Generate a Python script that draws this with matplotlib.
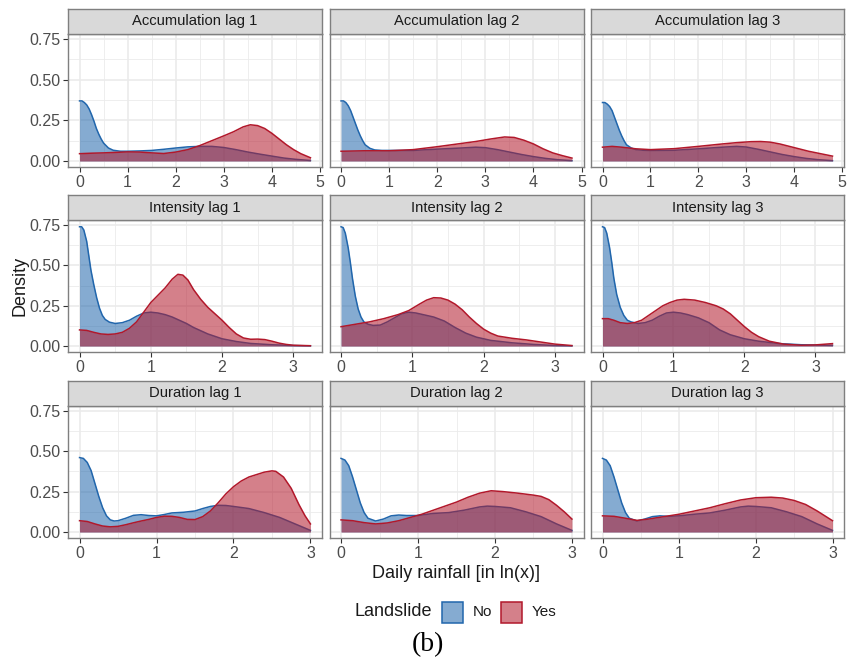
import matplotlib
matplotlib.use('Agg')
import matplotlib.pyplot as plt
from matplotlib.patches import Rectangle

plt.rcParams['font.family'] = ['Liberation Sans', 'DejaVu Sans']

# ---------------- data ----------------
facet_titles = [["Accumulation lag 1", "Accumulation lag 2", "Accumulation lag 3"],
                ["Intensity lag 1", "Intensity lag 2", "Intensity lag 3"],
                ["Duration lag 1", "Duration lag 2", "Duration lag 3"]]
series_labels = ["No", "Yes"]
legend_title = "Landslide"
x_title = "Daily rainfall [in ln(x)]"
y_title = "Density"
caption = "(b)"

y_ticks = [0.00, 0.25, 0.50, 0.75]
y_ticklabels = ["0.00", "0.25", "0.50", "0.75"]
x_ticks_rows = [[0, 1, 2, 3, 4, 5], [0, 1, 2, 3], [0, 1, 2, 3]]
x_data_range_rows = [(0, 4.8), (0, 3.24), (0, 3.0)]

# Accumulation lag 1
acc1_x_no = [0, 0.05, 0.1, 0.15, 0.2, 0.25, 0.3, 0.35, 0.4, 0.45, 0.5, 0.6, 0.7, 0.85, 1.0, 1.25, 1.5, 1.75,
             2.0, 2.25, 2.5, 2.75, 3.0, 3.25, 3.5, 3.75, 4.0, 4.25, 4.5, 4.8]
acc1_y_no = [0.37, 0.37, 0.36, 0.345, 0.32, 0.285, 0.245, 0.2, 0.165, 0.135, 0.11, 0.08, 0.066, 0.06, 0.06,
             0.062, 0.065, 0.072, 0.08, 0.087, 0.09, 0.09, 0.083, 0.07, 0.055, 0.042, 0.03, 0.018, 0.01, 0.003]
acc1_x_yes = [0, 0.25, 0.5, 0.75, 1.0, 1.25, 1.5, 1.75, 2.0, 2.25, 2.5, 2.75, 3.0, 3.2, 3.4, 3.55, 3.7, 3.85,
              4.0, 4.15, 4.3, 4.45, 4.6, 4.8]
acc1_y_yes = [0.045, 0.048, 0.05, 0.053, 0.056, 0.055, 0.05, 0.046, 0.055, 0.07, 0.095, 0.125, 0.155, 0.18,
              0.21, 0.223, 0.218, 0.2, 0.17, 0.135, 0.1, 0.07, 0.045, 0.02]

# Accumulation lag 2
acc2_x_no = [0, 0.05, 0.1, 0.15, 0.2, 0.25, 0.3, 0.35, 0.4, 0.45, 0.5, 0.6, 0.7, 0.85, 1.0, 1.5, 2.0, 2.5,
             2.8, 3.0, 3.25, 3.5, 3.75, 4.0, 4.25, 4.5, 4.8]
acc2_y_no = [0.37, 0.37, 0.36, 0.34, 0.31, 0.27, 0.23, 0.19, 0.155, 0.125, 0.1, 0.078, 0.068, 0.065, 0.065,
             0.065, 0.073, 0.08, 0.085, 0.082, 0.07, 0.055, 0.04, 0.027, 0.016, 0.008, 0.002]
acc2_x_yes = [0, 0.5, 1.0, 1.5, 2.0, 2.5, 2.8, 3.1, 3.4, 3.6, 3.8, 4.0, 4.2, 4.4, 4.6, 4.8]
acc2_y_yes = [0.06, 0.063, 0.063, 0.07, 0.088, 0.108, 0.12, 0.135, 0.148, 0.145, 0.128, 0.105, 0.075, 0.05,
              0.033, 0.018]

# Accumulation lag 3
acc3_x_no = [0, 0.05, 0.1, 0.15, 0.2, 0.25, 0.3, 0.35, 0.4, 0.45, 0.5, 0.6, 0.7, 0.85, 1.0, 1.5, 2.0, 2.5,
             2.8, 3.0, 3.25, 3.5, 3.75, 4.0, 4.25, 4.5, 4.8]
acc3_y_no = [0.36, 0.36, 0.35, 0.335, 0.31, 0.27, 0.23, 0.19, 0.155, 0.125, 0.1, 0.08, 0.07, 0.066, 0.065,
             0.066, 0.075, 0.085, 0.09, 0.086, 0.072, 0.056, 0.04, 0.027, 0.016, 0.008, 0.002]
acc3_x_yes = [0, 0.2, 0.4, 0.7, 1.0, 1.5, 2.0, 2.5, 2.8, 3.1, 3.3, 3.5, 3.7, 3.9, 4.1, 4.3, 4.5, 4.8]
acc3_y_yes = [0.085, 0.09, 0.085, 0.075, 0.07, 0.076, 0.09, 0.105, 0.113, 0.119, 0.12, 0.116, 0.105, 0.09,
              0.075, 0.06, 0.048, 0.03]

# Intensity lag 1
int1_x_no = [0, 0.03, 0.06, 0.1, 0.13, 0.16, 0.2, 0.24, 0.28, 0.32, 0.36, 0.42, 0.5, 0.6, 0.7, 0.8, 0.9, 1.0,
             1.1, 1.2, 1.3, 1.4, 1.5, 1.6, 1.7, 1.8, 1.9, 2.0, 2.2, 2.4, 2.7, 3.0, 3.24]
int1_y_no = [0.74, 0.74, 0.72, 0.65, 0.56, 0.47, 0.38, 0.3, 0.235, 0.19, 0.165, 0.148, 0.14, 0.145, 0.16,
             0.185, 0.205, 0.21, 0.205, 0.195, 0.18, 0.16, 0.14, 0.115, 0.095, 0.075, 0.06, 0.045, 0.028,
             0.016, 0.008, 0.003, 0.001]
int1_x_yes = [0, 0.1, 0.2, 0.3, 0.4, 0.5, 0.6, 0.7, 0.8, 0.9, 1.0, 1.1, 1.2, 1.3, 1.38, 1.45, 1.52, 1.6, 1.7,
              1.8, 1.9, 2.0, 2.1, 2.2, 2.3, 2.4, 2.5, 2.6, 2.7, 2.8, 2.9, 3.0, 3.24]
int1_y_yes = [0.1, 0.097, 0.085, 0.075, 0.072, 0.075, 0.085, 0.11, 0.15, 0.21, 0.27, 0.315, 0.36, 0.415,
              0.445, 0.44, 0.41, 0.35, 0.29, 0.24, 0.2, 0.16, 0.115, 0.075, 0.05, 0.042, 0.043, 0.04, 0.03,
              0.018, 0.01, 0.005, 0.002]

# Intensity lag 2
int2_x_no = [0, 0.03, 0.06, 0.1, 0.13, 0.16, 0.2, 0.24, 0.28, 0.32, 0.38, 0.45, 0.55, 0.65, 0.75, 0.85, 0.95,
             1.05, 1.15, 1.3, 1.45, 1.6, 1.75, 1.9, 2.1, 2.4, 2.7, 3.0, 3.24]
int2_y_no = [0.74, 0.735, 0.7, 0.61, 0.52, 0.42, 0.31, 0.23, 0.18, 0.15, 0.135, 0.128, 0.13, 0.15, 0.175,
             0.2, 0.21, 0.205, 0.195, 0.18, 0.155, 0.115, 0.08, 0.055, 0.035, 0.02, 0.01, 0.003, 0.001]
int2_x_yes = [0, 0.2, 0.4, 0.6, 0.8, 0.95, 1.1, 1.2, 1.3, 1.4, 1.5, 1.6, 1.7, 1.8, 1.9, 2.0, 2.1, 2.2, 2.4,
              2.6, 2.8, 3.0, 3.24]
int2_y_yes = [0.12, 0.135, 0.15, 0.17, 0.195, 0.22, 0.26, 0.285, 0.3, 0.298, 0.285, 0.26, 0.225, 0.18, 0.14,
              0.105, 0.08, 0.062, 0.048, 0.038, 0.025, 0.012, 0.003]

# Intensity lag 3
int3_x_no = [0, 0.03, 0.06, 0.1, 0.13, 0.16, 0.2, 0.25, 0.3, 0.35, 0.4, 0.5, 0.6, 0.7, 0.8, 0.9, 1.0, 1.1,
             1.2, 1.35, 1.5, 1.65, 1.8, 2.0, 2.2, 2.5, 2.8, 3.24]
int3_y_no = [0.74, 0.735, 0.7, 0.61, 0.52, 0.42, 0.32, 0.24, 0.19, 0.16, 0.15, 0.14, 0.145, 0.16, 0.185,
             0.205, 0.21, 0.205, 0.195, 0.175, 0.145, 0.1, 0.07, 0.045, 0.03, 0.015, 0.008, 0.004]
int3_x_yes = [0, 0.08, 0.16, 0.25, 0.35, 0.45, 0.55, 0.65, 0.75, 0.85, 0.95, 1.05, 1.15, 1.3, 1.45, 1.6,
              1.7, 1.8, 1.9, 2.0, 2.1, 2.2, 2.35, 2.55, 2.8, 3.0, 3.24]
int3_y_yes = [0.17, 0.17, 0.16, 0.145, 0.14, 0.145, 0.16, 0.19, 0.22, 0.25, 0.27, 0.285, 0.29, 0.285, 0.27,
              0.25, 0.23, 0.2, 0.16, 0.12, 0.085, 0.058, 0.03, 0.012, 0.005, 0.007, 0.015]

# Duration lag 1
dur1_x_no = [0, 0.05, 0.1, 0.15, 0.2, 0.25, 0.3, 0.35, 0.4, 0.45, 0.5, 0.6, 0.7, 0.8, 0.9, 1.0, 1.1, 1.2,
             1.35, 1.5, 1.6, 1.7, 1.8, 1.9, 2.0, 2.2, 2.4, 2.6, 2.8, 3.0]
dur1_y_no = [0.46, 0.455, 0.43, 0.38, 0.3, 0.22, 0.15, 0.1, 0.075, 0.068, 0.07, 0.085, 0.103, 0.107, 0.102,
             0.1, 0.108, 0.118, 0.122, 0.13, 0.145, 0.158, 0.165, 0.164, 0.158, 0.145, 0.12, 0.09, 0.05, 0.01]
dur1_x_yes = [0, 0.1, 0.2, 0.3, 0.4, 0.5, 0.6, 0.7, 0.8, 0.9, 1.0, 1.1, 1.2, 1.3, 1.4, 1.5, 1.6, 1.7, 1.8,
              1.9, 2.0, 2.1, 2.2, 2.3, 2.4, 2.5, 2.55, 2.65, 2.75, 2.85, 2.93, 3.0]
dur1_y_yes = [0.07, 0.065, 0.05, 0.037, 0.032, 0.035, 0.045, 0.057, 0.068, 0.078, 0.09, 0.098, 0.097, 0.09,
              0.078, 0.077, 0.095, 0.13, 0.18, 0.235, 0.28, 0.315, 0.34, 0.355, 0.37, 0.378, 0.375, 0.34,
              0.27, 0.17, 0.1, 0.05]

# Duration lag 2
dur2_x_no = [0, 0.05, 0.1, 0.15, 0.2, 0.25, 0.3, 0.35, 0.45, 0.55, 0.65, 0.75, 0.85, 1.0, 1.2, 1.4, 1.6,
             1.8, 1.9, 2.0, 2.2, 2.4, 2.6, 2.8, 3.0]
dur2_y_no = [0.455, 0.445, 0.41, 0.34, 0.26, 0.18, 0.12, 0.085, 0.068, 0.08, 0.1, 0.105, 0.102, 0.102, 0.115,
             0.12, 0.135, 0.155, 0.16, 0.158, 0.15, 0.125, 0.095, 0.05, 0.01]
dur2_x_yes = [0, 0.15, 0.3, 0.45, 0.6, 0.75, 0.9, 1.05, 1.2, 1.35, 1.5, 1.65, 1.8, 1.95, 2.1, 2.3, 2.5, 2.6,
              2.7, 2.8, 2.9, 3.0]
dur2_y_yes = [0.075, 0.07, 0.058, 0.05, 0.056, 0.07, 0.09, 0.11, 0.135, 0.16, 0.185, 0.215, 0.24, 0.255,
              0.25, 0.24, 0.228, 0.22, 0.2, 0.165, 0.125, 0.08]

# Duration lag 3
dur3_x_no = [0, 0.05, 0.1, 0.15, 0.2, 0.25, 0.3, 0.35, 0.45, 0.55, 0.65, 0.75, 0.85, 1.0, 1.2, 1.4, 1.6,
             1.8, 1.9, 2.0, 2.2, 2.4, 2.6, 2.8, 3.0]
dur3_y_no = [0.455, 0.445, 0.41, 0.34, 0.26, 0.18, 0.12, 0.085, 0.068, 0.08, 0.095, 0.1, 0.097, 0.1, 0.11,
             0.118, 0.135, 0.155, 0.16, 0.158, 0.15, 0.125, 0.095, 0.05, 0.01]
dur3_x_yes = [0, 0.15, 0.3, 0.45, 0.6, 0.8, 1.0, 1.2, 1.4, 1.6, 1.8, 2.0, 2.2, 2.35, 2.5, 2.65, 2.8, 2.9,
              3.0]
dur3_y_yes = [0.1, 0.097, 0.085, 0.072, 0.08, 0.095, 0.11, 0.13, 0.15, 0.175, 0.198, 0.212, 0.215, 0.21,
              0.195, 0.17, 0.13, 0.1, 0.07]

panel_data = [
    [((acc1_x_no, acc1_y_no), (acc1_x_yes, acc1_y_yes)),
     ((acc2_x_no, acc2_y_no), (acc2_x_yes, acc2_y_yes)),
     ((acc3_x_no, acc3_y_no), (acc3_x_yes, acc3_y_yes))],
    [((int1_x_no, int1_y_no), (int1_x_yes, int1_y_yes)),
     ((int2_x_no, int2_y_no), (int2_x_yes, int2_y_yes)),
     ((int3_x_no, int3_y_no), (int3_x_yes, int3_y_yes))],
    [((dur1_x_no, dur1_y_no), (dur1_x_yes, dur1_y_yes)),
     ((dur2_x_no, dur2_y_no), (dur2_x_yes, dur2_y_yes)),
     ((dur3_x_no, dur3_y_no), (dur3_x_yes, dur3_y_yes))],
]

# ---------------- style ----------------
W, H = 850, 659
line_colors = ["#2166AC", "#B2182B"]
fill_alpha = 0.55
border_col = "#7F7F7F"
grid_col = "#EBEBEB"
tick_col = "#4D4D4D"

col_bounds = [(68, 322), (329.5, 583.5), (591, 844)]
row_bounds = [(34, 167), (220, 352), (405.5, 538)]
strip_h = 25

y_lim = (-0.037, 0.782)

fig = plt.figure(figsize=(W / 100, H / 100), dpi=100)


def rect(x0, x1, top, bottom):
    return [x0 / W, 1 - bottom / H, (x1 - x0) / W, (bottom - top) / H]


for r in range(3):
    lo, hi = x_data_range_rows[r]
    pad = 0.05 * (hi - lo)
    xlim = (lo - pad, hi + pad)
    xt = x_ticks_rows[r]
    for c in range(3):
        x0, x1 = col_bounds[c]
        top, bottom = row_bounds[r]
        ax = fig.add_axes(rect(x0, x1, top, bottom))
        ax.set_xlim(*xlim)
        ax.set_ylim(*y_lim)
        # grid
        minor_x = [(xt[i] + xt[i + 1]) / 2 for i in range(len(xt) - 1)]
        minor_y = [(y_ticks[i] + y_ticks[i + 1]) / 2 for i in range(len(y_ticks) - 1)]
        for v in minor_x:
            ax.axvline(v, color=grid_col, lw=0.6, zorder=0)
        for v in minor_y:
            ax.axhline(v, color=grid_col, lw=0.6, zorder=0)
        for v in xt:
            ax.axvline(v, color=grid_col, lw=1.2, zorder=0)
        for v in y_ticks:
            ax.axhline(v, color=grid_col, lw=1.2, zorder=0)
        # densities: No first, Yes on top
        for k, (xs, ys) in enumerate(panel_data[r][c]):
            ax.fill_between(xs, 0, ys, color=line_colors[k], alpha=fill_alpha, lw=0, zorder=2 + k)
            ax.plot(xs, ys, color=line_colors[k], lw=1.1, zorder=2.5 + k, solid_joinstyle='round')
        ax.set_xticks(xt)
        ax.set_xticklabels([str(v) for v in xt])
        ax.set_yticks(y_ticks)
        ax.tick_params(axis='both', colors='#333333', labelcolor=tick_col,
                       labelsize=11.5, length=3.5, width=0.8, pad=2)
        if c == 0:
            ax.set_yticklabels(y_ticklabels)
        else:
            ax.tick_params(axis='y', length=0, labelleft=False)
        for s in ax.spines.values():
            s.set_color(border_col)
            s.set_linewidth(1.0)
        # strip
        sax = fig.add_axes(rect(x0, x1, top - strip_h, top))
        sax.set_xticks([])
        sax.set_yticks([])
        sax.set_facecolor("#D9D9D9")
        for s in sax.spines.values():
            s.set_color(border_col)
            s.set_linewidth(1.0)
        sax.text(0.5, 0.5, facet_titles[r][c], ha='center', va='center',
                 fontsize=10.6, color='#1A1A1A', transform=sax.transAxes)

# axis titles
fig.text(456 / W, 1 - 573 / H, x_title, ha='center', va='center', fontsize=13, color='#1A1A1A')
fig.text(20 / W, 1 - 286 / H, y_title, ha='center', va='center', rotation=90, fontsize=13, color='#1A1A1A')

# legend
fig.text(393 / W, 1 - 612 / H, legend_title, ha='center', va='center', fontsize=13, color='#1A1A1A')
key_x = [442, 501]
lab_x = [473, 532]
for k in range(2):
    fig.patches.append(Rectangle((key_x[k] / W, 1 - 623 / H), 21 / W, 21 / H,
                                 transform=fig.transFigure, facecolor=line_colors[k],
                                 alpha=fill_alpha, edgecolor='none'))
    fig.patches.append(Rectangle((key_x[k] / W, 1 - 623 / H), 21 / W, 21 / H,
                                 transform=fig.transFigure, facecolor='none',
                                 edgecolor=line_colors[k], lw=1.1))
    fig.text(lab_x[k] / W, 1 - 612 / H, series_labels[k], ha='left', va='center',
             fontsize=11, color='#1A1A1A')

fig.text(428 / W, 1 - 645 / H, caption, ha='center', va='center', fontsize=20,
         family=['Liberation Serif', 'DejaVu Serif'], color='black')

fig.savefig('out.png', dpi=100)
